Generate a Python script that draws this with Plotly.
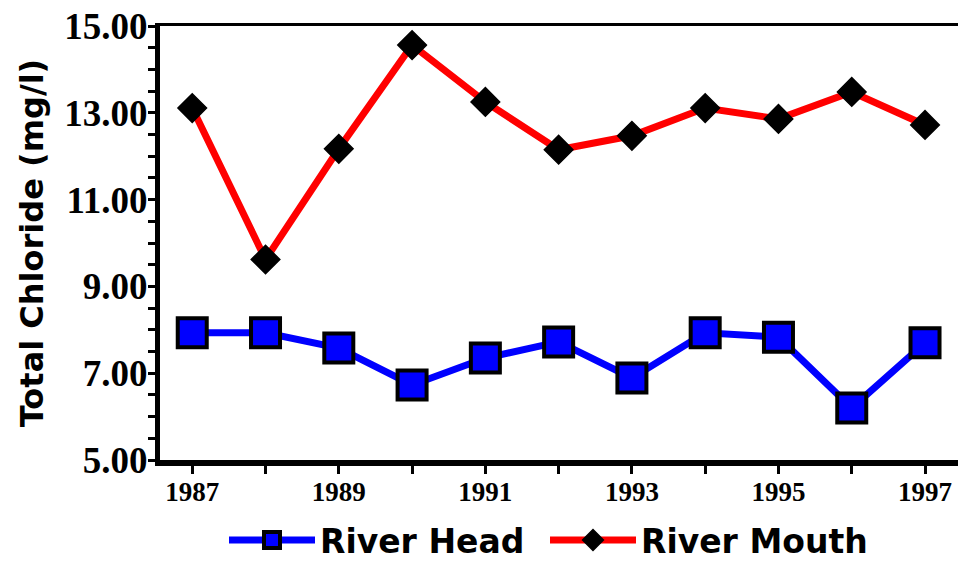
import plotly.graph_objects as go

years = [1987, 1988, 1989, 1990, 1991, 1992, 1993, 1994, 1995, 1996, 1997]
river_head = [7.93, 7.93, 7.58, 6.73, 7.35, 7.72, 6.89, 7.93, 7.83, 6.20, 7.70]
river_mouth = [13.11, 9.62, 12.17, 14.56, 13.25, 12.15, 12.47, 13.11, 12.86, 13.48, 12.72]
x_tick_vals = [1987, 1989, 1991, 1993, 1995, 1997]
y_tick_vals = [5, 7, 9, 11, 13, 15]
y_tick_text = ["5.00", "7.00", "9.00", "11.00", "13.00", "15.00"]

serif = "Liberation Serif, Times New Roman, serif"
sans = "DejaVu Sans, Arial, sans-serif"

fig = go.Figure()
fig.add_trace(go.Scatter(
    x=years, y=river_head, name="River Head", mode="lines+markers",
    line=dict(color="#0000ff", width=7),
    marker=dict(symbol="square", size=29, color="#0000ff", line=dict(color="black", width=4)),
))
fig.add_trace(go.Scatter(
    x=years, y=river_mouth, name="River Mouth", mode="lines+markers",
    line=dict(color="#ff0000", width=7),
    marker=dict(symbol="diamond", size=22, color="black", line=dict(color="black", width=1.5)),
))
# invisible trace on the top x-axis so the thin top frame line is drawn
fig.add_trace(go.Scatter(x=[years[0]], y=[river_head[0]], xaxis="x2", mode="markers",
                         marker=dict(opacity=0), showlegend=False, hoverinfo="skip"))

fig.update_layout(
    width=962, height=562,
    margin=dict(l=160, r=4, t=26, b=102, autoexpand=False),
    paper_bgcolor="white", plot_bgcolor="white",
    showlegend=True,
    legend=dict(orientation="h", x=64 / 798, xanchor="left",
                yref="container", y=(562 - 540) / 562, yanchor="middle",
                font=dict(family=sans, size=33, color="black", weight="bold"),
                itemwidth=86, itemsizing="trace", tracegroupgap=0,
                entrywidth=220, entrywidthmode="pixels", borderwidth=0),
    xaxis=dict(
        range=[1986.56, 1997.45], showgrid=False, zeroline=False, automargin=False,
        showline=True, linecolor="black", linewidth=6,
        tickmode="array", tickvals=x_tick_vals, ticks="outside", ticklen=8, tickwidth=3,
        tickcolor="black", ticklabelstandoff=-5,
        tickfont=dict(family=serif, size=27, color="black", weight="bold"),
        minor=dict(dtick=1, tick0=1987, ticks="outside", ticklen=8, tickwidth=3, tickcolor="black"),
    ),
    xaxis2=dict(
        overlaying="x", side="top", range=[1986.56, 1997.45], showgrid=False, zeroline=False,
        showline=True, linecolor="black", linewidth=3, showticklabels=False, ticks="",
        automargin=False,
    ),
    yaxis=dict(
        range=[5, 15], showgrid=False, zeroline=False, automargin=False,
        showline=True, linecolor="black", linewidth=5,
        tickmode="array", tickvals=y_tick_vals, ticktext=y_tick_text,
        ticks="outside", ticklen=7, tickwidth=3, tickcolor="black", ticklabelstandoff=-7,
        tickfont=dict(family=serif, size=37, color="black", weight="bold"),
        minor=dict(dtick=0.5, tick0=5, ticks="outside", ticklen=7, tickwidth=3, tickcolor="black"),
        title=dict(text="Total Chloride (mg/l)", standoff=13,
                   font=dict(family=sans, size=32, color="black", weight="bold")),
    ),
)

fig.write_html("out.html", config={"displayModeBar": False},
               post_script="document.body.style.margin='0px';document.body.style.overflow='hidden';")
